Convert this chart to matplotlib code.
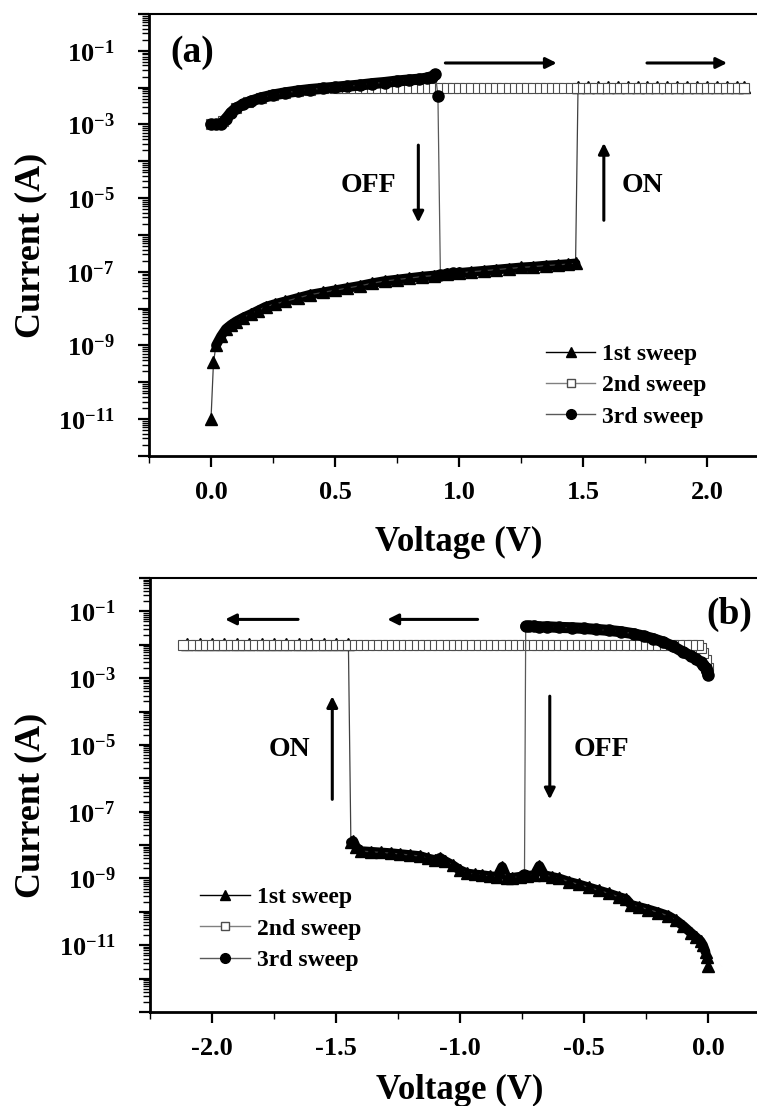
import numpy as np
import matplotlib.pyplot as plt
from matplotlib.lines import Line2D

plt.rcParams['font.family'] = ['Liberation Serif', 'DejaVu Serif']
plt.rcParams['font.weight'] = 'bold'
plt.rcParams['axes.labelweight'] = 'bold'
plt.rcParams['mathtext.fontset'] = 'custom'
plt.rcParams['mathtext.rm'] = 'Liberation Serif:bold'
plt.rcParams['mathtext.bf'] = 'Liberation Serif:bold'
plt.rcParams['mathtext.default'] = 'rm'
plt.rcParams['axes.unicode_minus'] = False

# ---------------- panel (a): positive sweep ----------------
# 1st sweep: OFF state then switching ON at ~1.47 V
V1a_low = [0.00, 0.01, 0.02, 0.04, 0.06, 0.08, 0.10, 0.13, 0.16, 0.19, 0.22, 0.26,
           0.30, 0.35, 0.40, 0.45, 0.50, 0.55, 0.60, 0.65, 0.70, 0.75, 0.80, 0.85,
           0.90, 0.95, 1.00, 1.05, 1.10, 1.15, 1.20, 1.25, 1.30, 1.35, 1.40, 1.44, 1.47]
logI1a_low = [-11.0, -9.46, -9.0, -8.75, -8.55, -8.44, -8.35, -8.24, -8.15, -8.05, -7.95, -7.87,
              -7.8, -7.71, -7.62, -7.56, -7.5, -7.44, -7.38, -7.31, -7.25, -7.21, -7.17, -7.13,
              -7.1, -7.06, -7.03, -7.0, -6.97, -6.94, -6.91, -6.88, -6.86, -6.83, -6.81, -6.79, -6.77]
V1a_on = [1.48, 1.52, 1.56, 1.60, 1.64, 1.68, 1.72, 1.76, 1.80, 1.84, 1.88, 1.92,
          1.96, 2.00, 2.04, 2.08, 2.12, 2.15]
logI1a_on = [-1.97, -1.97, -1.97, -1.97, -1.97, -1.97, -1.97, -1.97, -1.97, -1.97, -1.97, -1.97,
             -1.97, -1.97, -1.97, -1.97, -1.97, -1.97]

# 2nd sweep: ON state (compliance ~1e-2 A)
V2a = [0.00, 0.05, 0.10, 0.15, 0.20, 0.25, 0.30, 0.35, 0.40, 0.45, 0.50,
       0.525, 0.55, 0.575, 0.60, 0.625, 0.65, 0.675, 0.70, 0.725, 0.75, 0.775, 0.80,
       0.825, 0.85, 0.875, 0.90, 0.925, 0.95, 0.975, 1.00, 1.025, 1.05, 1.075, 1.10,
       1.125, 1.15, 1.175, 1.20, 1.225, 1.25, 1.275, 1.30, 1.325, 1.35, 1.375, 1.40,
       1.425, 1.45, 1.475, 1.50, 1.525, 1.55, 1.575, 1.60, 1.625, 1.65, 1.675, 1.70,
       1.725, 1.75, 1.775, 1.80, 1.825, 1.85, 1.875, 1.90, 1.925, 1.95, 1.975, 2.00,
       2.025, 2.05, 2.075, 2.10, 2.125, 2.15]
logI2a = [-3.0, -2.9, -2.56, -2.4, -2.28, -2.2, -2.14, -2.09, -2.05, -2.02, -2.0,
          -2.0, -2.0, -2.0, -2.0, -2.0, -2.0, -2.0, -2.0, -2.0, -2.0, -2.0, -2.0,
          -2.0, -2.0, -2.0, -2.0, -2.0, -2.0, -2.0, -2.0, -2.0, -2.0, -2.0, -2.0,
          -2.0, -2.0, -2.0, -2.0, -2.0, -2.0, -2.0, -2.0, -2.0, -2.0, -2.0, -2.0,
          -2.0, -2.0, -2.0, -2.0, -2.0, -2.0, -2.0, -2.0, -2.0, -2.0, -2.0, -2.0,
          -2.0, -2.0, -2.0, -2.0, -2.0, -2.0, -2.0, -2.0, -2.0, -2.0, -2.0, -2.0,
          -2.0, -2.0, -2.0, -2.0, -2.0, -2.0]

# 3rd sweep: ON state, reset to OFF at ~0.91 V
V3a_on = [0.00, 0.02, 0.04, 0.06, 0.08, 0.10, 0.13, 0.16, 0.20, 0.25, 0.30, 0.35,
          0.40, 0.45, 0.50, 0.55, 0.60, 0.65, 0.70, 0.75, 0.80, 0.84, 0.87, 0.89, 0.905]
logI3a_on = [-3.0, -3.0, -3.0, -2.85, -2.68, -2.56, -2.45, -2.37, -2.28, -2.2, -2.14, -2.09,
             -2.05, -2.02, -1.99, -1.96, -1.93, -1.89, -1.86, -1.82, -1.79, -1.77, -1.74, -1.7, -1.64]
V3a_off = [0.915, 0.925, 0.95, 0.975, 1.00]
logI3a_off = [-2.22, -7.08, -7.06, -7.04, -7.02]

# ---------------- panel (b): negative sweep ----------------
V1b_low = [0.00, -0.005, -0.01, -0.02, -0.03, -0.05, -0.07, -0.10, -0.13, -0.16, -0.20, -0.24,
           -0.28, -0.31, -0.33, -0.36, -0.40, -0.44, -0.48, -0.52, -0.56, -0.60, -0.63, -0.66,
           -0.68, -0.70, -0.73, -0.76, -0.79, -0.81, -0.83, -0.85, -0.88, -0.91, -0.94, -0.97,
           -1.00, -1.03, -1.06, -1.08, -1.10, -1.13, -1.16, -1.20, -1.24, -1.28, -1.32, -1.36,
           -1.40, -1.42, -1.43, -1.44]
logI1b_low = [-11.63, -11.35, -11.2, -11.0, -10.88, -10.75, -10.62, -10.42, -10.25, -10.12, -10.02, -9.93,
              -9.85, -9.79, -9.62, -9.55, -9.45, -9.36, -9.27, -9.18, -9.1, -9.0, -8.95, -8.9,
              -8.62, -8.9, -8.92, -8.95, -8.98, -9.0, -8.65, -8.95, -8.93, -8.9, -8.88, -8.85,
              -8.75, -8.6, -8.48, -8.38, -8.45, -8.4, -8.33, -8.3, -8.27, -8.24, -8.22, -8.2,
              -8.18, -8.05, -7.88, -7.92]
V1b_on = [-1.45, -1.50, -1.55, -1.60, -1.65, -1.70, -1.75, -1.80, -1.85, -1.90, -1.95, -2.00,
          -2.05, -2.10]
logI1b_on = [-1.97, -1.97, -1.97, -1.97, -1.97, -1.97, -1.97, -1.97, -1.97, -1.97, -1.97, -1.97,
             -1.97, -1.97]

V2b = [0.00, -0.01, -0.02, -0.03, -0.04, -0.065, -0.09, -0.115, -0.14, -0.165, -0.19,
       -0.215, -0.24, -0.265, -0.29, -0.315, -0.34, -0.365, -0.39, -0.415, -0.44, -0.465,
       -0.49, -0.515, -0.54, -0.565, -0.59, -0.615, -0.64, -0.665, -0.69, -0.715, -0.74,
       -0.765, -0.79, -0.815, -0.84, -0.865, -0.89, -0.915, -0.94, -0.965, -0.99, -1.015,
       -1.04, -1.065, -1.09, -1.115, -1.14, -1.165, -1.19, -1.215, -1.24, -1.265, -1.29,
       -1.315, -1.34, -1.365, -1.39, -1.415, -1.44, -1.465, -1.49, -1.515, -1.54, -1.565,
       -1.59, -1.615, -1.64, -1.665, -1.69, -1.715, -1.74, -1.765, -1.79, -1.815, -1.84,
       -1.865, -1.89, -1.915, -1.94, -1.965, -1.99, -2.015, -2.04, -2.065, -2.09, -2.115]
logI2b = [-2.7, -2.45, -2.25, -2.1, -2.0, -2.0, -2.0, -2.0, -2.0, -2.0, -2.0,
          -2.0, -2.0, -2.0, -2.0, -2.0, -2.0, -2.0, -2.0, -2.0, -2.0, -2.0,
          -2.0, -2.0, -2.0, -2.0, -2.0, -2.0, -2.0, -2.0, -2.0, -2.0, -2.0,
          -2.0, -2.0, -2.0, -2.0, -2.0, -2.0, -2.0, -2.0, -2.0, -2.0, -2.0,
          -2.0, -2.0, -2.0, -2.0, -2.0, -2.0, -2.0, -2.0, -2.0, -2.0, -2.0,
          -2.0, -2.0, -2.0, -2.0, -2.0, -2.0, -2.0, -2.0, -2.0, -2.0, -2.0,
          -2.0, -2.0, -2.0, -2.0, -2.0, -2.0, -2.0, -2.0, -2.0, -2.0, -2.0,
          -2.0, -2.0, -2.0, -2.0, -2.0, -2.0, -2.0, -2.0, -2.0, -2.0, -2.0]

V3b_on = [0.00, -0.005, -0.01, -0.02, -0.03, -0.05, -0.07, -0.10, -0.14, -0.18, -0.22, -0.26,
          -0.30, -0.35, -0.40, -0.45, -0.50, -0.55, -0.60, -0.65, -0.68, -0.70, -0.72, -0.735]
logI3b_on = [-2.9, -2.8, -2.7, -2.6, -2.52, -2.42, -2.33, -2.22, -2.05, -1.92, -1.82, -1.74,
             -1.67, -1.61, -1.57, -1.54, -1.51, -1.49, -1.48, -1.46, -1.47, -1.44, -1.45, -1.45]
V3b_off = [-0.74, -0.75]
logI3b_off = [-8.9, -8.95]

labels = ['1st sweep', '2nd sweep', '3rd sweep']

W, H = 757, 1106
fig = plt.figure(figsize=(W / 100, H / 100), dpi=100)
ax_a = fig.add_axes([149 / W, 1 - 456 / H, 620 / W, 442 / H])
ax_b = fig.add_axes([150 / W, 1 - 1012 / H, 620 / W, 434 / H])


def draw_panel(ax, s1, s2, s3, labelpad):
    (v1l, i1l, v1o, i1o) = s1
    (v2, i2) = s2
    (v3o, i3o, v3f, i3f) = s3
    I1l, I1o = 10 ** np.array(i1l), 10 ** np.array(i1o)
    I3o, I3f = 10 ** np.array(i3o), 10 ** np.array(i3f)
    # thick bands under the dense markers (skip the first steep points)
    ax.plot(v1l[2:], I1l[2:], color='k', lw=7, solid_capstyle='round', zorder=2)
    ax.plot(list(v1l) + list(v1o), np.concatenate([I1l, I1o]), color='0.25', lw=0.9,
            marker='^', ms=8, mfc='k', mec='k', zorder=2.1)
    ax.plot(v2, 10 ** np.array(i2), color='0.45', lw=0.9, marker='s', ms=7,
            mfc='white', mec='0.3', mew=0.8, zorder=3)
    ax.plot(v3o, I3o, color='k', lw=8, solid_capstyle='round', zorder=4)
    ax.plot(list(v3o) + list(v3f), np.concatenate([I3o, I3f]), color='0.35', lw=0.9,
            marker='o', ms=8, mfc='k', mec='k', zorder=4.1)

    ax.set_yscale('log')
    decades = [10.0 ** e for e in range(-13, 1)]
    ax.set_yticks(decades)
    ax.set_yticklabels(['$10^{%d}$' % e if (e % 2 and e > -12) else '' for e in range(-13, 1)])
    ax.yaxis.set_minor_locator(plt.matplotlib.ticker.LogLocator(base=10, subs=np.arange(2, 10), numticks=30))
    ax.yaxis.set_minor_formatter(plt.NullFormatter())
    ax.xaxis.set_minor_locator(plt.MultipleLocator(0.25))
    ax.tick_params(which='major', direction='out', length=8, width=1.6, labelsize=19)
    ax.tick_params(axis='x', which='major', pad=10)
    ax.tick_params(axis='y', which='major', pad=17)
    ax.tick_params(which='minor', direction='out', length=5, width=1.0)
    ax.spines['left'].set_linewidth(2)
    ax.spines['bottom'].set_linewidth(2)
    ax.spines['top'].set_linewidth(1.5)
    ax.spines['right'].set_linewidth(1.5)
    ax.set_xlabel('Voltage (V)', fontsize=25, labelpad=labelpad)

    handles = [Line2D([], [], color='k', lw=1, marker='^', ms=7, mfc='k', mec='k'),
               Line2D([], [], color='0.5', lw=1, marker='s', ms=6, mfc='white', mec='0.3'),
               Line2D([], [], color='0.35', lw=1, marker='o', ms=7, mfc='k', mec='k')]
    return handles


h = draw_panel(ax_a, (V1a_low, logI1a_low, V1a_on, logI1a_on), (V2a, logI2a),
               (V3a_on, logI3a_on, V3a_off, logI3a_off), 16)
ax_a.set_xlim(-0.25, 2.25)
ax_a.set_ylim(1e-12, 1)
ax_a.set_xticks([0.0, 0.5, 1.0, 1.5, 2.0])
ax_a.set_xticklabels(['0.0', '0.5', '1.0', '1.5', '2.0'])
ax_a.legend(h, labels, loc='upper left', bbox_to_anchor=(0.64, 0.255), frameon=False,
            fontsize=17, handlelength=2.1, handletextpad=0.3, labelspacing=0.42,
            borderpad=0, borderaxespad=0)

arrow = dict(arrowstyle='-|>', lw=2.2, color='k', mutation_scale=16, shrinkA=0, shrinkB=0)
ax_a.annotate('', xy=(1.394, 10 ** -1.33), xytext=(0.945, 10 ** -1.33), arrowprops=arrow)
ax_a.annotate('', xy=(2.081, 10 ** -1.33), xytext=(1.758, 10 ** -1.33), arrowprops=arrow)
ax_a.annotate('', xy=(0.836, 10 ** -5.66), xytext=(0.836, 10 ** -3.56), arrowprops=arrow)
ax_a.annotate('', xy=(1.584, 10 ** -3.5), xytext=(1.584, 10 ** -5.6), arrowprops=arrow)
ax_a.text(0.634, 10 ** -4.65, 'OFF', fontsize=20, ha='center', va='center')
ax_a.text(1.741, 10 ** -4.65, 'ON', fontsize=20, ha='center', va='center')
ax_a.text(-0.077, 10 ** -1.05, '(a)', fontsize=27, ha='center', va='center')

h = draw_panel(ax_b, (V1b_low, logI1b_low, V1b_on, logI1b_on), (V2b, logI2b),
               (V3b_on, logI3b_on, V3b_off, logI3b_off), 10)
ax_b.set_xlim(-2.25, 0.25)
ax_b.set_ylim(1e-13, 1)
ax_b.set_xticks([-2.0, -1.5, -1.0, -0.5, 0.0])
ax_b.set_xticklabels(['-2.0', '-1.5', '-1.0', '-0.5', '0.0'])
ax_b.legend(h, labels, loc='upper left', bbox_to_anchor=(0.081, 0.289), frameon=False,
            fontsize=17, handlelength=2.1, handletextpad=0.3, labelspacing=0.42,
            borderpad=0, borderaxespad=0)
ax_b.annotate('', xy=(-1.947, 10 ** -1.24), xytext=(-1.653, 10 ** -1.24), arrowprops=arrow)
ax_b.annotate('', xy=(-1.293, 10 ** -1.24), xytext=(-0.929, 10 ** -1.24), arrowprops=arrow)
ax_b.annotate('', xy=(-1.515, 10 ** -3.54), xytext=(-1.515, 10 ** -6.63), arrowprops=arrow)
ax_b.annotate('', xy=(-0.638, 10 ** -6.63), xytext=(-0.638, 10 ** -3.54), arrowprops=arrow)
ax_b.text(-1.689, 10 ** -5.13, 'ON', fontsize=20, ha='center', va='center')
ax_b.text(-0.428, 10 ** -5.13, 'OFF', fontsize=20, ha='center', va='center')
ax_b.text(0.085, 10 ** -1.09, '(b)', fontsize=27, ha='center', va='center')

fig.text(31 / W, 1 - 245 / H, 'Current (A)', rotation=90, fontsize=26, ha='center', va='center')
fig.text(31 / W, 1 - 805 / H, 'Current (A)', rotation=90, fontsize=26, ha='center', va='center')

fig.savefig('out.png', dpi=100)
